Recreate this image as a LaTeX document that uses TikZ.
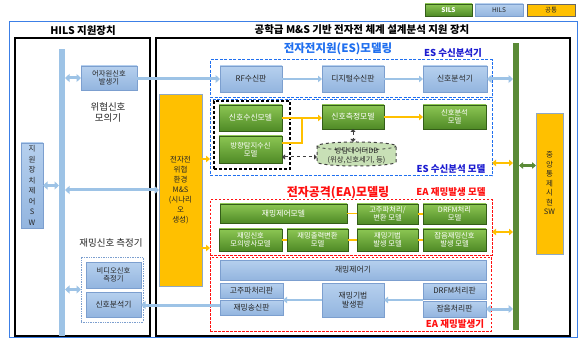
\documentclass[tikz,border=0pt]{standalone}
\usepackage{fontspec}
\setmainfont{Noto Sans CJK KR}
\usetikzlibrary{arrows.meta}
\definecolor{txt}{HTML}{262626}
\definecolor{hbt}{HTML}{B6D0EE}
\definecolor{hbb}{HTML}{93B5DF}
\definecolor{hbd}{HTML}{7C9FCF}
\definecolor{busb}{HTML}{9DC3E6}
\definecolor{gt}{HTML}{8CC653}
\definecolor{gb}{HTML}{4F8A26}
\definecolor{gbd}{HTML}{345E18}
\definecolor{gbusc}{HTML}{5A8A36}
\definecolor{org}{HTML}{FFC000}
\definecolor{obd}{HTML}{8FA8C4}
\definecolor{esblue}{HTML}{1F6FEF}
\definecolor{esdark}{HTML}{1A1AD0}
\definecolor{outerb}{HTML}{3C7FE6}
\definecolor{dbf}{HTML}{C8E0B6}
\definecolor{eared}{HTML}{FF1010}
\newcommand\mkbox[7]{\node[inner sep=0pt,outer sep=0pt,#1,minimum width={(#5-#3)*1pt},minimum height={(#6-#4)*1pt}] (#2) at ({(#3+#5)/2},{(#4+#6)/2}) {#7};}
\tikzset{
  boxfont/.style={font=\fontsize{7.8}{9.2}\selectfont},
  twofont/.style={font=\fontsize{7.3}{8.4}\selectfont},
  lbl/.style={inner sep=0pt, align=center, text=txt},
  hbox/.style={draw=hbd, line width=0.6pt, top color=hbt, bottom color=hbb, text=txt, align=center, boxfont},
  gbox/.style={draw=gbd, line width=0.9pt, top color=gt, bottom color=gb, text=white, align=center, boxfont},
  obox/.style={draw=obd, line width=0.6pt, fill=org, text=txt, align=center, boxfont},
  esframe/.style={draw=esblue, line width=1pt, dash pattern=on 3pt off 1.5pt},
  eaframe/.style={draw=eared, line width=1pt, dash pattern=on 2.5pt off 1.5pt},
  blkframe/.style={draw=black, line width=1.3pt},
  tipb/.tip={Triangle[length=4.5pt,width=8pt]},
  tips/.tip={Triangle[length=4pt,width=6.5pt]},
  harr/.style={draw=busb, line width=3pt, -tipb},
  hdbl/.style={draw=busb, line width=3pt, tipb-tipb},
  hthin/.style={draw=busb, line width=2pt, -tips},
  oarr/.style={draw=org, line width=1.6pt, -tips},
  odbl/.style={draw=org, line width=2pt, tips-tips},
  oline/.style={draw=org, line width=1.3pt},
  gdbl/.style={draw=gbusc, line width=2.2pt, tips-tips},
  ddbl/.style={draw=black!75, line width=1pt, dashed, {Triangle[length=3pt,width=5pt]}-{Triangle[length=3pt,width=5pt]}},
  ttl/.style={inner sep=0pt, font=\bfseries\fontsize{10.5}{12}\selectfont, text=black},
}
\begin{document}
\begin{tikzpicture}[x=1pt,y=-1pt]
\useasboundingbox (0,0) rectangle (581,339);
\fill[white] (0,0) rectangle (581,339);
% legend
\mkbox{gbox, font=\bfseries\fontsize{6.5}{7}\selectfont}{lsils}{425}{4}{472}{16}{SILS}
\mkbox{hbox, font=\fontsize{6.5}{7}\selectfont}{lhils}{475}{4}{523}{16}{HILS}
\mkbox{obox, draw=black!60, font=\fontsize{6.5}{7}\selectfont}{lcom}{527}{4}{575}{16}{공통}
% frames
\mkbox{draw=outerb, line width=0.9pt}{outer}{9}{21}{577}{337}{}
\mkbox{blkframe}{hilsf}{15}{38}{150}{336}{}
\mkbox{blkframe}{mainf}{156}{38}{570}{336}{}
\node[ttl] (t1) at (83,31) {HILS 지원장치};
\node[ttl] (t2) at (362,30) {공학급 M\&S 기반 전자전 체계 설계분석 지원 장치};
% buses
\mkbox{fill=busb}{hbus}{59}{49}{65}{336}{}
\mkbox{fill=gbusc}{gbus}{513}{43}{519}{330}{}
% HILS side
\mkbox{hbox, twofont}{aj}{81}{66}{137}{90}{어자원신호\\발생기}
\node[lbl, font=\fontsize{9.5}{11}\selectfont] (wi) at (108,112.5) {위협신호\\모의기};
\mkbox{hbox, font=\fontsize{7.5}{10.5}\selectfont}{ctl}{21}{143}{43}{228}{지\\원\\장\\치\\제\\어\\S\\W}
\node[lbl, font=\fontsize{9.5}{11}\selectfont] (jml) at (111,243) {재밍신호 측정기};
\mkbox{draw=hbd, densely dotted, line width=0.7pt}{jmg}{81}{257}{143}{322}{}
\mkbox{hbox, twofont}{vid}{86}{262}{141}{288}{비디오신호\\측정기}
\mkbox{hbox}{sa2}{86}{292}{141}{317}{신호분석기}
% M&S box
\mkbox{obox, font=\fontsize{7.5}{10}\selectfont}{ms}{159}{94}{202}{286}{전자전\\위협\\환경\\M\&S\\(시나리\\오\\생성)}
% ES
\node[lbl, font=\bfseries\fontsize{11.5}{13}\selectfont, text=esblue] (est) at (338,49) {전자전지원(ES)모델링};
\node[lbl, font=\bfseries\fontsize{9.5}{11}\selectfont, text=esdark] (esrt) at (453,53) {ES 수신분석기};
\mkbox{esframe}{esr}{210}{60}{492}{98}{}
\mkbox{hbox}{rf}{220}{66}{282}{92}{RF수신판}
\mkbox{hbox}{dig}{322}{66}{384}{92}{디지털수신판}
\mkbox{hbox}{sa1}{423}{66}{487}{92}{신호분석기}
\mkbox{esframe}{esm}{210}{100}{492}{176}{}
\node[lbl, font=\bfseries\fontsize{9.5}{11}\selectfont, text=esdark] (esmt) at (451,169) {ES 수신분석 모델};
\mkbox{draw=black, line width=1.1pt, dash pattern=on 3pt off 2pt}{grp}{214}{101}{290}{169}{}
\mkbox{gbox}{rcv}{219}{105}{282}{131}{신호수신모델}
\mkbox{gbox, twofont}{df}{219}{136}{282}{163}{방향탐지수신\\모델}
\mkbox{gbox}{meas}{322}{105}{384}{129}{신호측정모델}
\mkbox{gbox, twofont}{ana}{423}{105}{486}{129}{신호분석\\모델}
\fill[dbf] (317,146) -- (317,162) arc[start angle=180,end angle=360,x radius=39.5pt,y radius=4pt] -- (396,146) arc[start angle=0,end angle=180,x radius=39.5pt,y radius=4pt] -- cycle;
\draw[black!75, line width=1pt, dashed] (317,146) -- (317,162) arc[start angle=180,end angle=360,x radius=39.5pt,y radius=4pt] -- (396,146) arc[start angle=0,end angle=180,x radius=39.5pt,y radius=4pt] -- cycle;
\draw[black!75, line width=0.8pt, dashed] (317,146) arc[start angle=180,end angle=360,x radius=39.5pt,y radius=4pt];
\mkbox{lbl, font=\fontsize{7.3}{9}\selectfont}{db}{317}{146}{396}{166}{방탐데이터DB\\(위상,신호세기, 등)}
% EA
\node[lbl, font=\bfseries\fontsize{12}{14}\selectfont, text=eared] (eat) at (338,193) {전자공격(EA)모델링};
\node[lbl, font=\bfseries\fontsize{9.5}{11}\selectfont, text=eared] (eamt) at (451,192) {EA 재밍발생 모델};
\mkbox{eaframe}{eam}{210}{200}{492}{255}{}
\mkbox{gbox}{c1}{220}{204}{347}{223}{재밍제어모델}
\mkbox{gbox, twofont}{c2}{357}{204}{418}{224}{고주파처리/\\변환 모델}
\mkbox{gbox, twofont}{c3}{423}{204}{486}{224}{DRFM처리\\모델}
\mkbox{gbox, twofont}{d1}{219}{229}{282}{251}{재밍신호\\모의방사모델}
\mkbox{gbox, twofont}{d2}{287}{229}{348}{251}{재밍출력변환\\모델}
\mkbox{gbox, twofont}{d3}{357}{229}{418}{251}{재밍기법\\발생 모델}
\mkbox{gbox, twofont}{d4}{423}{229}{486}{251}{잡음재밍신호\\발생 모델}
\mkbox{eaframe}{eag}{210}{257}{491}{331}{}
\node[lbl, font=\bfseries\fontsize{9.5}{11}\selectfont, text=eared] (eagt) at (455,324) {EA 재밍발생기};
\mkbox{hbox}{jc}{220}{260}{486}{280}{재밍제어기}
\mkbox{hbox}{hf}{220}{283}{283}{298}{고주파처리판}
\mkbox{hbox}{tx}{220}{300}{283}{315}{재밍송신판}
\mkbox{hbox}{tech}{322}{283}{384}{317}{재밍기법\\발생판}
\mkbox{hbox}{drfm}{423}{283}{486}{299}{DRFM처리판}
\mkbox{hbox}{nz}{423}{301}{486}{317}{잡음처리판}
% central SW
\mkbox{obox, font=\fontsize{7.5}{9.5}\selectfont}{cs}{536}{113}{563}{254}{중\\앙\\통\\제\\시\\현\\SW}
% ---- connectors
\draw[hdbl] (aj.west) -- (aj.west -| hbus.east);
\draw[harr] (aj.east) ++(0,1) coordinate (a1) (a1) -- (a1 -| rf.west);
\draw[hdbl] (ctl.east) -- (ctl.east -| hbus.west);
\draw[hdbl] (ms.west) -- (ms.west -| hbus.east);
\draw[hdbl] (jmg.west) -- (jmg.west -| hbus.east);
\path (tx.west) ++(0,-2.5) coordinate (t1w);
\draw[harr] (t1w) -- (t1w -| sa2.east);
\draw[hthin] (rf.east) -- (dig.west);
\draw[hthin] (dig.east) -- (sa1.west);
\draw[hdbl] (sa1.east) -- (sa1.east -| gbus.west);
\path (ms.east) ++(0,-31) coordinate (m1);
\draw[oarr] (m1) -- (m1 -| esm.west);
\path (ms.east) ++(0,58) coordinate (m2);
\draw[oarr] (m2) -- (m2 -| eam.west);
\path (esm.east) ++(0,25) coordinate (o1);
\draw[odbl] (o1) -- (o1 -| gbus.west);
\path (eam.east) ++(0,4.5) coordinate (o2);
\draw[odbl] (o2) -- (o2 -| gbus.west);
\draw[hdbl] (nz.east) -- (nz.east -| gbus.west);
\path (cs.west) ++(0,-18) coordinate (g1);
\draw[gdbl] (g1 -| gbus.east) -- (g1);
% ES internal
\coordinate (jt) at (302,118);
\coordinate (jb) at (302,143);
\draw[oline] (rcv.east) -- (jt) -- (jb) -- (jb -| df.east);
\draw[oarr] (jt) -- (jt -| meas.west);
\draw[oarr] (meas.east) -- (ana.west);
\draw[ddbl] (meas.south) -- ([yshift=4pt]meas.south |- db.north);
\path (df.east) ++(0,7.5) coordinate (dd);
\draw[ddbl] (dd) -- (dd -| db.west);
% EA model links
\draw[oline] (c1.east) -- (c1.east -| c2.west);
\draw[oline] (c2.east) -- (c2.east -| c3.west);
\draw[oline] (d1.east) -- (d2.west);
\draw[oline] (d2.east) -- (d3.west);
\draw[oline] (d3.east) -- (d4.west);
% EA jammer links
\draw[hthin, line width=1.6pt] (tech.east -| drfm.west) -- (tech.east);
\draw[hthin, line width=1.6pt] (tech.west) -- (tech.west -| hf.east);
\end{tikzpicture}
\end{document}
